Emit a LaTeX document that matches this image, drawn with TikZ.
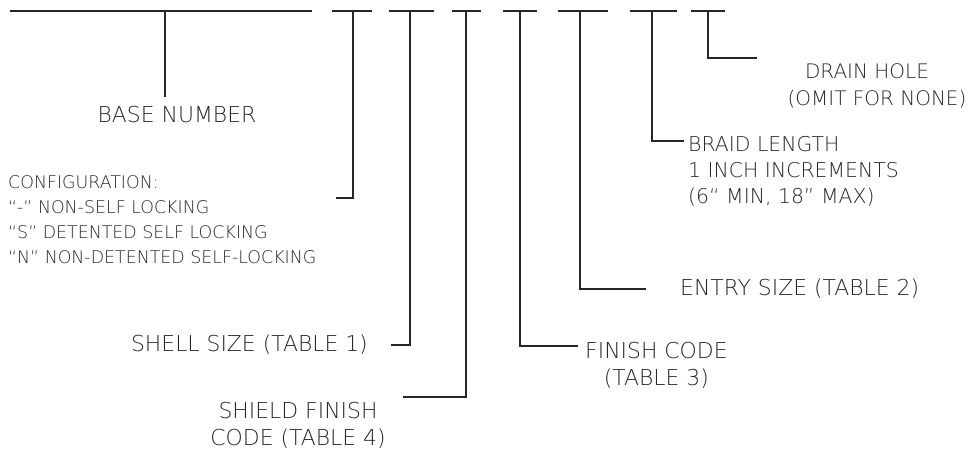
\documentclass[tikz,border=0pt]{standalone}
\usepackage{fontspec}
\setmainfont{DejaVu Sans ExtraLight}
\begin{document}
\begin{tikzpicture}[x=1pt,y=-1pt,
  ln/.style={line width=1.7pt,draw=black!85},
  bar/.style={line width=2pt,draw=black!85},
  lbl/.style={font=\fontsize{21.9}{27}\selectfont,text=black!85,inner sep=0pt},
  small/.style={font=\fontsize{17.4}{25}\selectfont,text=black!85,inner sep=0pt,align=left}]
\useasboundingbox (0,0) rectangle (969,453);
% top bars
\coordinate (b0l) at (10,11); \coordinate (b0r) at (312,11);
\draw[bar] (b0l) -- (b0r);
\foreach \n/\a/\b in {1/332/372,2/389/434,3/452/481,4/503/537,5/558/608,6/630/677,7/691/725}{
  \coordinate (b\n l) at (\a,11); \coordinate (b\n r) at (\b,11);
  \draw[bar] (b\n l) -- (b\n r);
}
% stems
\coordinate (s0) at (165,12);
\coordinate (s1) at (353,11);
\coordinate (s2) at (410,11);
\coordinate (s3) at (466,11);
\coordinate (s4) at (520,11);
\coordinate (s5) at (580,11);
\coordinate (s6) at (652,11);
\coordinate (s7) at (708,11);
% labels
\node[lbl] (base) at (177,115) {BASE NUMBER};
\node[small,anchor=north west] (conf) at (8,175) {CONFIGURATION:\\``-'' NON-SELF LOCKING\\``S'' DETENTED SELF LOCKING\\``N'' NON-DETENTED SELF-LOCKING};
\node[lbl,anchor=east] (shell) at (368,345) {SHELL SIZE (TABLE 1)};
\node[lbl,align=center,anchor=north] (shield) at (298,402) {SHIELD FINISH\\CODE (TABLE 4)};
\node[lbl,align=center,anchor=north west] (finish) at (585,342) {FINISH CODE\\(TABLE 3)};
\node[lbl,anchor=west] (entry) at (680,289) {ENTRY SIZE (TABLE 2)};
\node[lbl,align=left,anchor=north west,font=\fontsize{20.4}{26}\selectfont] (braid) at (688,136) {BRAID LENGTH\\1 INCH INCREMENTS\\(6`` MIN, 18'' MAX)};
\node[lbl,align=center,anchor=north,font=\fontsize{20}{27}\selectfont] (drain) at (877,63) {DRAIN HOLE\hspace*{20pt}\\(OMIT FOR NONE)};
% corner coordinates
\coordinate (e0) at (165,97);
\coordinate (c1) at (353,198); \coordinate (e1) at (336,198);
\coordinate (c2) at (410,345); \coordinate (e2) at (391,345);
\coordinate (c3) at (466,397); \coordinate (e3) at (403,397);
\coordinate (c4) at (520,346); \coordinate (e4) at (578,346);
\coordinate (c5) at (580,289); \coordinate (e5) at (646,289);
\coordinate (c6) at (652,141); \coordinate (e6) at (684,141);
\coordinate (c7) at (708,58);  \coordinate (e7) at (757,58);
\draw[ln] (s0) -- (e0);
\foreach \n in {1,...,7}{\draw[ln] (s\n) -- (c\n) -- (e\n);}
\end{tikzpicture}
\end{document}
